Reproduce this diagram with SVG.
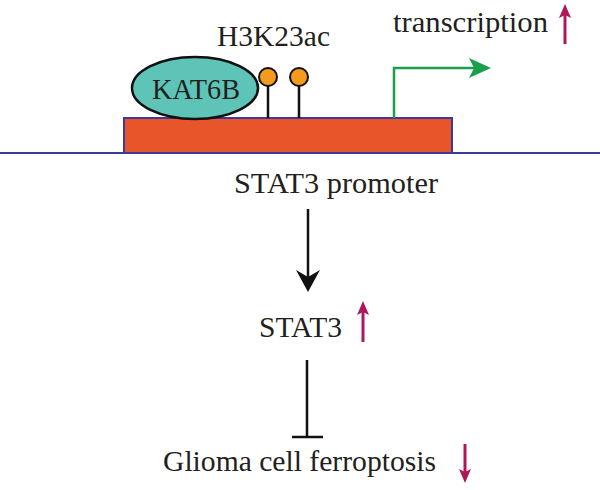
<svg xmlns="http://www.w3.org/2000/svg" width="600" height="490" viewBox="0 0 600 490">
<style>
text{font-family:"Liberation Serif","Times New Roman",serif;font-size:30px;fill:#231f20}
.up{stroke:#b0175a;stroke-width:3;fill:none}
</style>
<rect width="600" height="490" fill="#fff"/>
<g id="dna">
<line x1="0" y1="153" x2="600" y2="153" stroke="#3b3a98" stroke-width="2"/>
<rect x="124" y="118" width="328" height="35" fill="#e8552a" stroke="#3b3a98" stroke-width="2"/>
</g>
<g id="kat6b">
<ellipse cx="195" cy="88" rx="63" ry="31" fill="#5ec4b8" stroke="#111" stroke-width="2.5"/>
<text x="196" y="99" text-anchor="middle" textLength="88" lengthAdjust="spacingAndGlyphs">KAT6B</text>
</g>
<g id="h3k23ac">
<line x1="268" y1="86" x2="268" y2="118" stroke="#111" stroke-width="2.5"/>
<line x1="299" y1="86" x2="299" y2="118" stroke="#111" stroke-width="2.5"/>
<circle cx="268" cy="77" r="9" fill="#f39a1f" stroke="#111" stroke-width="2"/>
<circle cx="299" cy="77" r="9" fill="#f39a1f" stroke="#111" stroke-width="2"/>
<text x="217" y="46" textLength="113" lengthAdjust="spacingAndGlyphs">H3K23ac</text>
</g>
<g id="transcription">
<text x="393" y="32" textLength="155" lengthAdjust="spacingAndGlyphs">transcription</text>
<path d="M565,44 V14" class="up"/>
<path d="M565,4 L571,18 L565,15 L559,18 Z" fill="#b0175a"/>
</g>
<g id="promoter">
<text x="234" y="193" textLength="204" lengthAdjust="spacingAndGlyphs">STAT3 promoter</text>
</g>
<g id="stat3">
<text x="259" y="337" textLength="83" lengthAdjust="spacingAndGlyphs">STAT3</text>
<path d="M363,342 V312" class="up"/>
<path d="M363,301 L369,315 L363,312 L357,315 Z" fill="#b0175a"/>
</g>
<g id="ferroptosis">
<text x="163" y="471" textLength="273" lengthAdjust="spacingAndGlyphs">Glioma cell ferroptosis</text>
<path d="M465,444 V472" class="up"/>
<path d="M465,483 L471,469 L465,472 L459,469 Z" fill="#b0175a"/>
</g>
<g id="connectors">
<path d="M394,118 V68 H478" stroke="#1aa04a" stroke-width="2.5" fill="none"/>
<path d="M491,68 L469,58 L474,68 L469,78 Z" fill="#1aa04a"/>
<line x1="308" y1="209" x2="308" y2="280" stroke="#111" stroke-width="2.5"/>
<path d="M308,292 L296,270 L308,277 L320,270 Z" fill="#111"/>
<line x1="307" y1="360" x2="307" y2="437" stroke="#111" stroke-width="2.5"/>
<line x1="292" y1="437" x2="323" y2="437" stroke="#111" stroke-width="2.5"/>
</g>
</svg>
